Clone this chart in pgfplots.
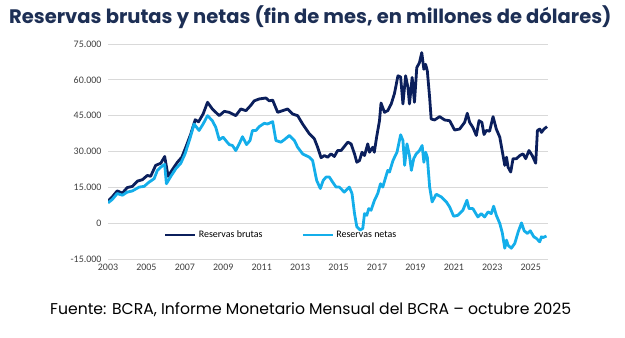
\documentclass[border=0pt]{standalone}
\usepackage{pgfplots}
\pgfplotsset{compat=1.18}
\usepackage{fontspec}
\setmainfont{Carlito}
\newfontfamily\titlefont{Poppins}
\definecolor{brutas}{HTML}{0B1F5C}
\definecolor{netas}{HTML}{14AEEA}
\definecolor{titulo}{HTML}{1D2F55}
\definecolor{grilla}{HTML}{D9D9D9}
\definecolor{ticks}{HTML}{404040}

\begin{document}
\begin{tikzpicture}
\path[use as bounding box] (0bp,0bp) rectangle (625bp,338bp);
\node[anchor=base west, inner sep=0, text=titulo]
  at (9bp,314bp) {\titlefont\bfseries\fontsize{19.6}{22}\selectfont Reservas brutas y netas (fin de mes, en millones de dólares)};
\node[anchor=base west, inner sep=0, text=black]
  at (50bp,24bp) {\titlefont\fontsize{15.7}{18}\selectfont Fuente: BCRA, Informe Monetario Mensual del BCRA – octubre 2025};

\begin{axis}[
    at={(108bp,79bp)}, anchor=south west,
    scale only axis,
    width=440bp, height=215bp,
    xmin=2003, xmax=2025.9,
    ymin=-15000, ymax=75000,
    axis line style={draw=none},
    tick style={draw=none},
    xtick={2003,2005,2007,2009,2011,2013,2015,2017,2019,2021,2023,2025},
    xticklabels={2003,2005,2007,2009,2011,2013,2015,2017,2019,2021,2023,2025},
    ytick={-15000,0,15000,30000,45000,60000,75000},
    scaled y ticks=false,
    /pgf/number format/1000 sep={.},
    /pgf/number format/assume math mode=true,
    ymajorgrids=true,
    grid style={grilla, line width=0.9bp},
    ticklabel style={font=\fontsize{10}{12}\selectfont, text=ticks},
    yticklabel style={xshift=-3bp},
    xticklabel style={yshift=-2bp},
    line join=round,
    legend columns=2,
    legend style={at={(0.127,0.112)}, anchor=west, draw=none, fill=none,
      inner sep=0pt, font=\fontsize{10}{12}\selectfont,
      /tikz/every even column/.append style={column sep=37bp}},
    legend image code/.code={\draw[#1, line width=2.8bp] (0bp,0bp) -- (30bp,0bp);},
  ]
\addplot[brutas, line width=2.8bp] coordinates {
(2003.00,9300) (2003.22,11000) (2003.48,13500) (2003.75,12600) (2004.00,14900)
(2004.27,15400) (2004.53,17600) (2004.79,18200) (2005.05,20000) (2005.22,19600)
(2005.48,24200) (2005.75,25100) (2005.95,27900) (2006.13,19600) (2006.35,22400)
(2006.61,25500) (2006.84,27600) (2007.05,31800) (2007.31,37400) (2007.54,43300)
(2007.71,42400) (2007.95,45700) (2008.18,50600) (2008.43,47800) (2008.79,45000)
(2009.05,46800) (2009.31,46400) (2009.65,45000) (2009.91,47800) (2010.18,47100)
(2010.44,49400) (2010.61,51200) (2010.87,52000) (2011.22,52400) (2011.39,51200)
(2011.57,51500) (2011.83,46400) (2012.09,47100) (2012.35,47800) (2012.61,45700)
(2012.87,45000) (2013.13,41500) (2013.48,37400) (2013.74,35300) (2013.91,31800)
(2014.09,27400) (2014.26,28300) (2014.43,27600) (2014.61,29000) (2014.78,27900)
(2014.95,30400) (2015.13,30400) (2015.30,32100) (2015.48,33900) (2015.65,33200)
(2015.83,29000) (2015.95,25500) (2016.09,26200) (2016.22,29700) (2016.35,28300)
(2016.52,33200) (2016.61,29700) (2016.78,31800) (2016.86,29700) (2016.98,36000)
(2017.13,42900) (2017.21,50300) (2017.39,46400) (2017.56,47100) (2017.74,49900)
(2017.91,54300) (2018.09,61700) (2018.23,61200) (2018.35,49900) (2018.49,61700)
(2018.61,56800) (2018.69,49900) (2018.83,61000) (2018.95,50600) (2019.07,65100)
(2019.21,67200) (2019.33,71400) (2019.44,64400) (2019.53,66500) (2019.62,63700)
(2019.74,52600) (2019.82,43600) (2020.00,43200) (2020.26,44600) (2020.52,43200)
(2020.78,42900) (2021.04,39000) (2021.30,39400) (2021.56,42200) (2021.70,46000)
(2021.82,42200) (2021.99,40100) (2022.17,36700) (2022.31,42900) (2022.46,42200)
(2022.57,37100) (2022.69,38800) (2022.86,38500) (2023.04,44600) (2023.21,39400)
(2023.39,36000) (2023.56,28300) (2023.65,24200) (2023.74,27600) (2023.82,23500)
(2023.96,21400) (2024.08,27000) (2024.26,27000) (2024.43,28300) (2024.60,29000)
(2024.74,27000) (2024.91,30400) (2025.08,28300) (2025.26,25100) (2025.35,38800)
(2025.47,39400) (2025.56,38000) (2025.69,39400) (2025.85,40400)
};
\addlegendentry{Reservas brutas}
\addplot[netas, line width=2.8bp] coordinates {
(2003.00,8500) (2003.22,9900) (2003.48,12400) (2003.75,11700) (2004.00,13000)
(2004.27,13500) (2004.62,15100) (2004.88,15400) (2005.14,17200) (2005.40,18600)
(2005.57,22100) (2005.75,23500) (2005.95,24600) (2006.04,16500) (2006.27,19600)
(2006.53,22800) (2006.79,25100) (2007.01,29000) (2007.26,35300) (2007.48,41500)
(2007.74,38800) (2007.95,41500) (2008.18,45000) (2008.43,42900) (2008.61,40100)
(2008.79,34900) (2008.99,36000) (2009.13,34600) (2009.31,32900) (2009.48,32500)
(2009.65,30400) (2009.83,33200) (2010.00,36200) (2010.21,32900) (2010.39,34600)
(2010.52,38800) (2010.70,38800) (2010.87,40400) (2011.13,41800) (2011.30,41500)
(2011.57,42500) (2011.74,34600) (2012.00,33900) (2012.17,34900) (2012.44,36700)
(2012.70,34600) (2012.87,31800) (2013.13,29000) (2013.48,27600) (2013.65,26200)
(2013.86,17900) (2014.05,14500) (2014.20,17900) (2014.35,19300) (2014.52,19300)
(2014.69,17200) (2014.87,15100) (2015.04,15100) (2015.30,13000) (2015.56,15100)
(2015.70,12400) (2015.83,4000) (2015.95,-1500) (2016.12,-2900) (2016.26,-2200)
(2016.35,4000) (2016.47,3300) (2016.57,6100) (2016.69,5400) (2016.87,9600)
(2017.04,12400) (2017.18,16500) (2017.30,15100) (2017.48,20000) (2017.56,22100)
(2017.65,21400) (2017.83,26200) (2018.04,29700) (2018.23,37000) (2018.35,34600)
(2018.44,24200) (2018.56,33200) (2018.69,28300) (2018.79,22100) (2018.91,27000)
(2019.04,29000) (2019.21,30400) (2019.35,32500) (2019.44,25500) (2019.53,29700)
(2019.62,27600) (2019.74,15100) (2019.87,8900) (2020.08,12100) (2020.35,11000)
(2020.61,8900) (2020.78,6800) (2020.99,2900) (2021.21,3300) (2021.47,5400)
(2021.68,9600) (2021.79,6100) (2021.99,6100) (2022.25,2600) (2022.43,4000)
(2022.60,2600) (2022.78,4700) (2022.95,4000) (2023.07,7100) (2023.21,3300)
(2023.39,-100) (2023.52,-4000) (2023.65,-10500) (2023.74,-7100) (2023.82,-9200)
(2023.99,-10500) (2024.17,-8500) (2024.35,-3600) (2024.52,100) (2024.66,-3200)
(2024.83,-4300) (2024.98,-3200) (2025.16,-5700) (2025.30,-6400) (2025.47,-7800)
(2025.56,-5700) (2025.64,-6000) (2025.82,-5400)
};
\addlegendentry{Reservas netas}
\end{axis}
\end{tikzpicture}
\end{document}
